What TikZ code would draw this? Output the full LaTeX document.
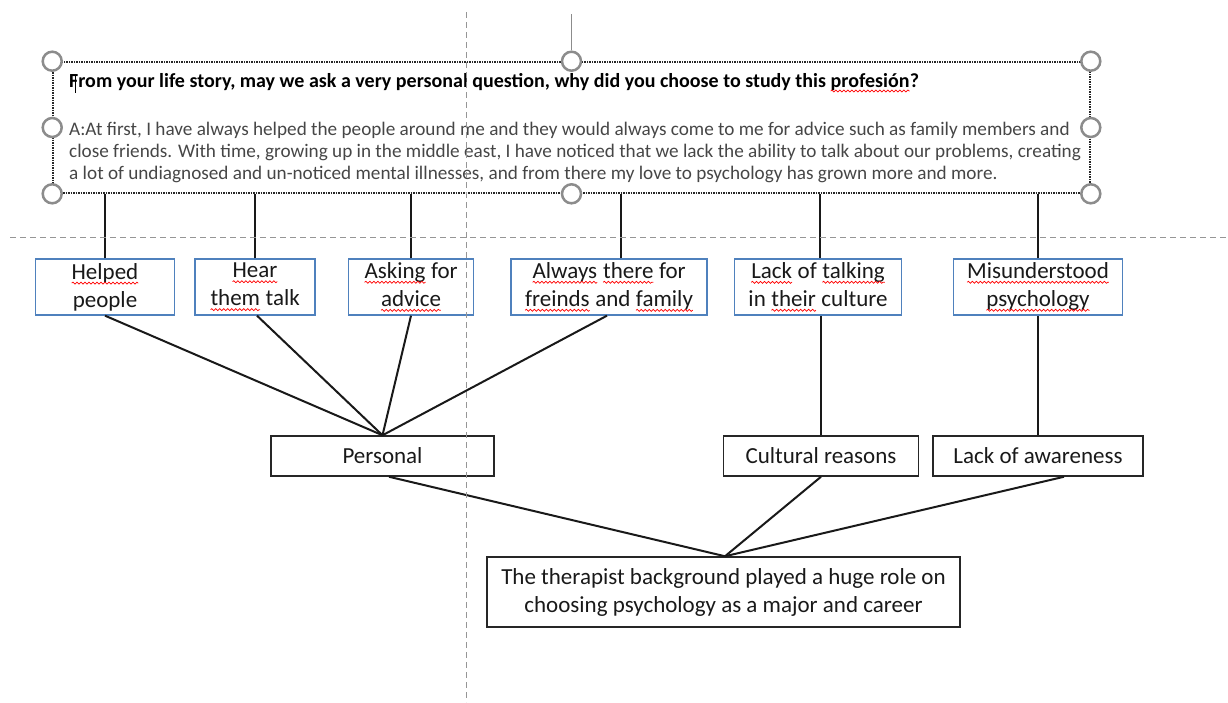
\documentclass[tikz,border=0pt]{standalone}
\usepackage{fontspec}
\setmainfont{Carlito}
\usetikzlibrary{decorations.pathmorphing}
\definecolor{boxblue}{RGB}{79,129,189}
\definecolor{handlegray}{RGB}{140,140,140}
\definecolor{guidegray}{RGB}{150,150,150}
\definecolor{bodygray}{RGB}{70,70,70}
\newcommand\sperr[1]{\tikz[baseline=(sw.base)]{\node[inner sep=0pt,outer sep=0pt,draw=none,fill=none,rectangle,minimum width=0pt,minimum height=0pt,anchor=base](sw){#1};\draw[red,line width=0.7pt,decorate,decoration={snake,amplitude=1pt,segment length=4pt}]([yshift=-4pt]sw.base west)--([yshift=-4pt]sw.base east);}}
\begin{document}
\begin{tikzpicture}[x=1pt,y=-1pt,
  lbl/.style={draw=boxblue,line width=1.3pt,rectangle,inner sep=0pt,align=center,font=\fontsize{23}{28}\selectfont,text=black!90},
  blk/.style={draw=black!85,line width=1.5pt,rectangle,inner sep=0pt,align=center,font=\fontsize{23}{28}\selectfont,text=black!90},
  conn/.style={black!90,line width=2pt},
  handle/.style={circle,draw=handlegray,fill=white,line width=2.5pt,minimum size=19pt,inner sep=0pt},
  guide/.style={guidegray,line width=1pt,dash pattern=on 6pt off 4pt},
  tbox/.style={draw=black!85,line width=1.6pt,dash pattern=on 1.5pt off 1pt,rectangle,inner sep=0pt},
  qtext/.style={anchor=base west,inner sep=0pt,font=\fontsize{20}{22}\selectfont\bfseries,text=black},
  btext/.style={anchor=base west,inner sep=0pt,font=\fontsize{19.2}{22}\selectfont,text=bodygray},
]
\useasboundingbox (0,0) rectangle (1228,702);

% text box
\node[tbox,minimum width=1037pt,minimum height=131pt] (tb) at (571.5,127.5) {};
\node[qtext] (q) at (69,87) {From your life story, may we ask a very personal question, why did you choose to study this \sperr{profesión}?};
\node[btext] (b1) at (69,135) {A:At first, I have always helped the people around me and they would always come to me for advice such as family members and};
\node[btext] (b2) at (69,157) {close friends. With time, growing up in the middle east, I have noticed that we lack the ability to talk about our problems, creating};
\node[btext] (b3) at (69,179) {a lot of undiagnosed and un-noticed mental illnesses, and from there my love to psychology has grown more and more.};
\coordinate (cur1) at (75,76);
\coordinate (cur2) at (75,93);
\draw[black,line width=1pt] (cur1) -- (cur2);

% first row
\node[lbl,minimum width=139pt,minimum height=56pt] (helped) at (105,287) {\sperr{Helped}\\people};
\node[lbl,minimum width=120pt,minimum height=56pt] (hear) at (255,287) {\sperr{Hear}\\\sperr{them} talk};
\node[lbl,minimum width=125pt,minimum height=56pt] (asking) at (411,287) {\sperr{Asking} for\\\sperr{advice}};
\node[lbl,minimum width=196pt,minimum height=56pt] (always) at (609,287) {\sperr{Always} \sperr{there} for\\\sperr{freinds} and \sperr{family}};
\node[lbl,minimum width=167pt,minimum height=56pt] (lack) at (818,287) {\sperr{Lack} of \sperr{talking}\\in \sperr{their} culture};
\node[lbl,minimum width=169pt,minimum height=56pt] (mis) at (1038,287) {\sperr{Misunderstood}\\\sperr{psychology}};

% second row
\node[blk,minimum width=223pt,minimum height=40pt] (personal) at (382.5,456) {Personal};
\node[blk,minimum width=195pt,minimum height=40pt] (cultural) at (821,456) {Cultural reasons};
\node[blk,minimum width=210pt,minimum height=40pt] (aware) at (1038,456) {Lack of awareness};

% final
\node[blk,minimum width=473pt,minimum height=70pt] (final) at (723.5,592) {The therapist background played a huge role on\\choosing psychology as a major and career};

% connectors from text box
\draw[conn] (helped.north) -- (helped.north |- tb.south);
\draw[conn] (hear.north) -- (hear.north |- tb.south);
\draw[conn] (asking.north) -- (asking.north |- tb.south);
\draw[conn] ([xshift=12pt]always.north) -- ([xshift=12pt]always.north |- tb.south);
\draw[conn] ([xshift=2pt]lack.north) -- ([xshift=2pt]lack.north |- tb.south);
\draw[conn] (mis.north) -- (mis.north |- tb.south);

% to personal
\draw[conn] (helped.south) -- (personal.north);
\draw[conn] ([xshift=2pt]hear.south) -- (personal.north);
\draw[conn] (asking.south) -- (personal.north);
\draw[conn] ([xshift=-2pt]always.south) -- (personal.north);
\draw[conn] (cultural.north) -- (cultural.north |- lack.south);
\draw[conn] (aware.north) -- (aware.north |- mis.south);

% to final
\draw[conn] ([xshift=6.5pt]personal.south) -- ([xshift=1.5pt]final.north);
\draw[conn] (cultural.south) -- ([xshift=1.5pt]final.north);
\draw[conn] ([xshift=26pt]aware.south) -- ([xshift=1.5pt]final.north);

% handles
\node[handle] (h1) at (tb.north west) {};
\node[handle] (h2) at (tb.north) {};
\node[handle] (h3) at (tb.north east) {};
\node[handle] (h4) at (tb.west) {};
\node[handle] (h5) at (tb.east) {};
\node[handle] (h6) at (tb.south west) {};
\node[handle] (h7) at (tb.south) {};
\node[handle] (h8) at (tb.south east) {};
\coordinate (rot) at (571.5,14);
\draw[handlegray,line width=1.5pt] (rot) -- (h2.north);

% guides
\coordinate (gv1) at (466,12);
\coordinate (gv2) at (466,702);
\coordinate (gh1) at (10,237);
\coordinate (gh2) at (1228,237);
\draw[guide] (gv1) -- (gv2);
\draw[guide] (gh1) -- (gh2);
\end{tikzpicture}
\end{document}
